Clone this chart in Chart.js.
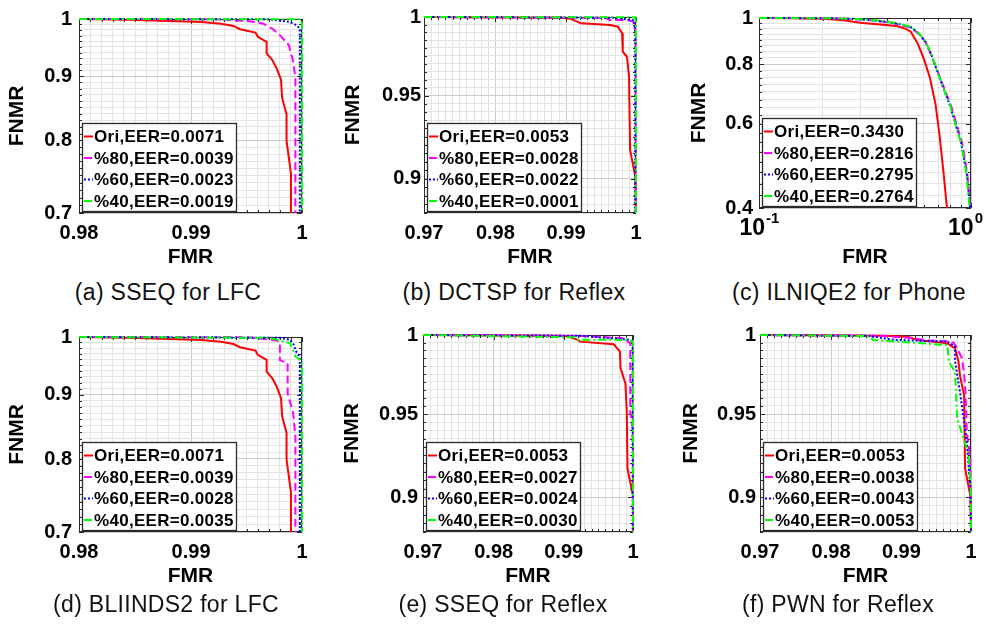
<!DOCTYPE html>
<html>
<head>
<meta charset="utf-8">
<script src="https://cdn.jsdelivr.net/npm/chart.js@4.4.0/dist/chart.umd.min.js"></script>
<style>
  body { margin: 0; background: #fff; width: 986px; height: 624px; position: relative; overflow: hidden; }
  canvas { position: absolute; }
  .cap { position: absolute; font-family: "Liberation Sans", Arial, sans-serif; font-size: 23px; letter-spacing: 0.3px;
         white-space: nowrap; transform: translate(-50%, -50%); color: #111; }
</style>
</head>
<body>
<script>
const FONT = '"Liberation Sans", Arial, Helvetica, sans-serif';

// curves as [FMR, FNMR] points
const lfcOri = [[0.98, 1], [0.9844, 0.9985], [0.9909, 0.9946], [0.9927, 0.9915], [0.9938, 0.9873], [0.9944, 0.9814], [0.9958, 0.9754], [0.9960, 0.9678], [0.9968, 0.959], [0.9968, 0.9388], [0.9973, 0.9276], [0.9977, 0.9135], [0.9981, 0.8944], [0.9982, 0.8649], [0.9986, 0.8393], [0.9986, 0.7996], [0.9990, 0.7526], [0.9990, 0.70]];
const sseqLfc80 = [[0.98, 1], [0.992, 0.9995], [0.9935, 0.998], [0.9953, 0.9958], [0.9965, 0.9915], [0.9973, 0.9825], [0.9980, 0.9708], [0.9988, 0.9532], [0.9992, 0.9247], [0.9994, 0.8971], [0.9994, 0.70]];
const sseqLfc60 = [[0.98, 1], [0.997, 0.9995], [0.9989, 0.9946], [0.9995, 0.9886], [0.9998, 0.9825], [0.9998, 0.70]];
const sseqLfc40 = [[0.98, 1], [0.9999, 0.9995], [1, 0.99], [1, 0.70]];

const dctspRefOri = [[0.97, 1], [0.9890, 0.9995], [0.9904, 0.9991], [0.9911, 0.998], [0.9921, 0.9959], [0.9963, 0.9948], [0.9974, 0.9937], [0.9980, 0.9894], [0.9981, 0.9776], [0.9987, 0.9744], [0.9990, 0.9618], [0.99915, 0.9169], [0.9999, 0.9011], [1, 0.88]];
const dctspRef80 = [[0.97, 1], [0.9955, 0.9995], [0.9963, 0.998], [0.9985, 0.998], [0.9996, 0.9972], [0.99995, 0.99], [0.99995, 0.88]];
const dctspRef60 = [[0.97, 1], [0.997, 0.9995], [0.9985, 0.9985], [0.9997, 0.9978], [0.9999, 0.99], [0.9999, 0.88]];
const dctspRef40 = [[0.97, 1], [0.9999, 0.9998], [1, 0.995], [1, 0.88]];

const phoneOri = [[0.1, 1], [0.15, 0.999], [0.2, 0.996], [0.25, 0.989], [0.3, 0.977], [0.35, 0.971], [0.4, 0.967], [0.45, 0.961], [0.49, 0.95], [0.52, 0.936], [0.56, 0.885], [0.6, 0.82], [0.64, 0.75], [0.68, 0.66], [0.71, 0.57], [0.74, 0.48], [0.77, 0.40]];
const phone80 = [[0.1, 1], [0.2, 0.999], [0.25, 0.997], [0.3, 0.993], [0.33, 0.99], [0.39, 0.982], [0.46, 0.970], [0.52, 0.955], [0.565, 0.928], [0.61, 0.89], [0.65, 0.835], [0.715, 0.75], [0.81, 0.65], [0.91, 0.545], [0.96, 0.472], [0.995, 0.40]];
const phone60 = [[0.1, 1], [0.2, 0.999], [0.25, 0.997], [0.3, 0.994], [0.33, 0.991], [0.39, 0.983], [0.46, 0.971], [0.52, 0.957], [0.565, 0.930], [0.61, 0.893], [0.65, 0.838], [0.71, 0.75], [0.8, 0.651], [0.9, 0.546], [0.955, 0.472], [0.99, 0.40]];
const phone40 = [[0.1, 1], [0.2, 0.999], [0.25, 0.997], [0.3, 0.994], [0.33, 0.991], [0.39, 0.984], [0.46, 0.972], [0.52, 0.958], [0.565, 0.931], [0.61, 0.894], [0.65, 0.84], [0.71, 0.752], [0.8, 0.652], [0.9, 0.545], [0.95, 0.474], [0.985, 0.40]];

const bliindsLfc80 = [[0.98, 1], [0.995, 0.9995], [0.9968, 0.996], [0.9978, 0.993], [0.9980, 0.990], [0.9980, 0.9585], [0.9987, 0.953], [0.9987, 0.902], [0.9992, 0.87], [0.9994, 0.834], [0.9994, 0.70]];
const bliindsLfc60 = [[0.98, 1], [0.998, 0.9985], [0.9989, 0.995], [0.9993, 0.985], [0.9994, 0.976], [0.9997, 0.967], [0.9998, 0.9585], [0.9998, 0.70]];
const bliindsLfc40 = [[0.98, 1], [0.997, 0.9985], [0.9989, 0.989], [0.9992, 0.975], [0.9994, 0.965], [0.9999, 0.958], [1, 0.95], [1, 0.70]];

const sseqRefOri = [[0.97, 1], [0.990, 0.9995], [0.991, 0.9985], [0.9920, 0.9968], [0.9924, 0.9957], [0.9972, 0.9940], [0.9981, 0.9892], [0.9982, 0.9786], [0.9989, 0.969], [0.9991, 0.951], [0.9992, 0.917], [1, 0.901], [1, 0.88]];
const sseqRef80 = [[0.97, 1], [0.992, 0.9995], [0.9986, 0.998], [0.9996, 0.9946], [0.9996, 0.951], [0.9999, 0.945], [1, 0.93], [1, 0.88]];
const sseqRef60 = [[0.97, 1], [0.9925, 0.9995], [0.9993, 0.997], [0.99995, 0.9955], [0.99995, 0.88]];
const sseqRef40 = [[0.97, 1], [0.9915, 0.9985], [0.992, 0.997], [0.9996, 0.9968], [1, 0.995], [1, 0.88]];

const pwnRefOri = [[0.97, 1], [0.988, 0.9995], [0.9909, 0.9989], [0.9923, 0.9968], [0.9966, 0.9946], [0.9977, 0.9914], [0.9982, 0.9828], [0.9984, 0.9743], [0.9990, 0.9617], [0.99915, 0.917], [0.9999, 0.901], [1, 0.88]];
const pwnRef80 = [[0.97, 1], [0.987, 0.9995], [0.9915, 0.998], [0.9935, 0.9965], [0.9965, 0.996], [0.9975, 0.995], [0.9980, 0.9914], [0.9987, 0.985], [0.9990, 0.975], [0.9992, 0.964], [0.9994, 0.939], [0.9999, 0.923], [1, 0.88]];
const pwnRef60 = [[0.97, 1], [0.985, 0.9995], [0.9861, 0.9989], [0.9890, 0.9968], [0.9966, 0.9957], [0.9977, 0.9925], [0.9977, 0.983], [0.9984, 0.964], [0.9994, 0.933], [0.99995, 0.903], [1, 0.88]];
const pwnRef40 = [[0.97, 1], [0.985, 0.9993], [0.9856, 0.9989], [0.9859, 0.9968], [0.9966, 0.9935], [0.9968, 0.9828], [0.9977, 0.9764], [0.9980, 0.9474], [0.9996, 0.926], [0.99995, 0.907], [1, 0.88]];

// legend entries
const legendSseqLfc = ['Ori,EER=0.0071', '%80,EER=0.0039', '%60,EER=0.0023', '%40,EER=0.0019'];
const legendDctspRef = ['Ori,EER=0.0053', '%80,EER=0.0028', '%60,EER=0.0022', '%40,EER=0.0001'];
const legendPhone = ['Ori,EER=0.3430', '%80,EER=0.2816', '%60,EER=0.2795', '%40,EER=0.2764'];
const legendBliindsLfc = ['Ori,EER=0.0071', '%80,EER=0.0039', '%60,EER=0.0028', '%40,EER=0.0035'];
const legendSseqRef = ['Ori,EER=0.0053', '%80,EER=0.0027', '%60,EER=0.0024', '%40,EER=0.0030'];
const legendPwnRef = ['Ori,EER=0.0053', '%80,EER=0.0038', '%60,EER=0.0043', '%40,EER=0.0053'];

const captionText = ['(a) SSEQ for LFC', '(b) DCTSP for Reflex', '(c) ILNIQE2 for Phone',
                     '(d) BLIINDS2 for LFC', '(e) SSEQ for Reflex', '(f) PWN for Reflex'];

// labelled ticks
const fmrTicksLfc = [0.98, 0.99, 1];
const fnmrTicksLfc = [0.7, 0.8, 0.9, 1];
const fmrTicksRef = [0.97, 0.98, 0.99, 1];
const fnmrTicksRef = [0.9, 0.95, 1];
const fmrTicksPhone = [0.1, 1];
const fnmrTicksPhone = [0.4, 0.6, 0.8, 1];

const seriesStyle = [
  { color: '#ff0000', dash: [] },
  { color: '#ff00ff', dash: [8, 4] },
  { color: '#0000ff', dash: [2, 2] },
  { color: '#00ff00', dash: [8, 3, 2, 3] }
];

const lfcX = { min: 0.98, max: 1, step: 0.001, majors: fmrTicksLfc };
const lfcY = { min: 0.7, max: 1, step: 0.01, majors: fnmrTicksLfc };
const refX = { min: 0.97, max: 1, step: 0.001, majors: fmrTicksRef };
const refY = { min: 0.88, max: 1, step: 0.005, majors: fnmrTicksRef };
const phoneX = { min: 0.1, max: 1, step: 0.1, majors: fmrTicksPhone, powers: true };
const phoneY = { min: 0.4, max: 1, step: 0.025, majors: fnmrTicksPhone };

const panels = [
  { box: [0, 0, 322, 275], plot: [79, 17, 302, 213], x: lfcX, y: lfcY, curves: [lfcOri, sseqLfc80, sseqLfc60, sseqLfc40],
    legend: legendSseqLfc, yTitlePad: 5, yTickPad: 7, cap: [168, 292] },
  { box: [330, 0, 656, 275], plot: [424, 17, 636, 213], x: refX, y: refY, curves: [dctspRefOri, dctspRef80, dctspRef60, dctspRef40],
    legend: legendDctspRef, yTitlePad: 11, yTickPad: 3, cap: [514, 292] },
  { box: [665, 0, 986, 275], plot: [759, 17, 971, 208], x: phoneX, y: phoneY, curves: [phoneOri, phone80, phone60, phone40],
    legend: legendPhone, yTitlePad: 22, yTickPad: 6, cap: [849, 292] },
  { box: [0, 318, 322, 594], plot: [79, 335, 302, 532], x: lfcX, y: lfcY, curves: [lfcOri, bliindsLfc80, bliindsLfc60, bliindsLfc40],
    legend: legendBliindsLfc, yTitlePad: 5, yTickPad: 7, cap: [166, 604] },
  { box: [330, 318, 656, 594], plot: [423, 335, 633, 532], x: refX, y: refY, curves: [sseqRefOri, sseqRef80, sseqRef60, sseqRef40],
    legend: legendSseqRef, yTitlePad: 10, yTickPad: 5, cap: [503, 604] },
  { box: [665, 318, 986, 594], plot: [760, 335, 971, 532], x: refX, y: refY, curves: [pwnRefOri, pwnRef80, pwnRef60, pwnRef40],
    legend: legendPwnRef, yTitlePad: 14, yTickPad: 4, cap: [838, 604] }
];

function gridValues(min, max, step) {
  const out = [];
  const n = Math.round((max - min) / step);
  for (let i = 0; i <= n; i++) out.push(+(min + i * step).toFixed(6));
  return out;
}

function isMajor(v, majors) {
  return majors.some(m => Math.abs(m - v) < 1e-7);
}

function axisOptions(ax, title, o) {
  const values = gridValues(ax.min, ax.max, ax.step);
  return {
    type: 'logarithmic',
    min: ax.min,
    max: ax.max,
    afterBuildTicks: s => { s.ticks = values.map(v => ({ value: v })); },
    afterFit: s => { if (o.horizontal) s.height = o.size; else s.width = o.size; },
    grid: {
      color: c => (c.tick && isMajor(c.tick.value, ax.majors)) ? '#cbcbcb' : '#e3e3e3',
      lineWidth: 1,
      drawTicks: false
    },
    border: { display: false },
    ticks: {
      autoSkip: false, maxRotation: 0, minRotation: 0,
      padding: o.tickPad, color: '#000',
      font: { family: FONT, size: 20, weight: 'bold' },
      callback: v => (!ax.powers && isMajor(v, ax.majors)) ? String(+v.toFixed(4)) : ''
    },
    title: {
      display: true, text: title, color: '#000',
      font: { family: FONT, size: 21, weight: 'bold' },
      padding: o.titlePad
    }
  };
}

// axes box, inward tick marks, legend and power-of-ten labels
function decorations(p) {
  return {
    id: 'detDecor',
    beforeDatasetsDraw(chart) {
      const { ctx, chartArea: a, scales } = chart;
      ctx.save();
      ctx.strokeStyle = '#2a2a2a';
      ctx.lineWidth = 1;
      ctx.beginPath();
      scales.x.ticks.forEach(t => {
        const px = Math.round(scales.x.getPixelForValue(t.value)) + 0.5;
        const len = isMajor(t.value, p.x.majors) ? 5 : 3;
        ctx.moveTo(px, a.bottom); ctx.lineTo(px, a.bottom - len);
        ctx.moveTo(px, a.top); ctx.lineTo(px, a.top + len);
      });
      scales.y.ticks.forEach(t => {
        const py = Math.round(scales.y.getPixelForValue(t.value)) + 0.5;
        const len = isMajor(t.value, p.y.majors) ? 5 : 3;
        ctx.moveTo(a.left, py); ctx.lineTo(a.left + len, py);
        ctx.moveTo(a.right, py); ctx.lineTo(a.right - len, py);
      });
      ctx.stroke();
      ctx.strokeRect(Math.round(a.left) + 0.5, Math.round(a.top) + 0.5,
                     Math.round(a.right - a.left) - 1, Math.round(a.bottom - a.top) - 1);
      ctx.restore();
    },
    afterDraw(chart) {
      const { ctx, chartArea: a, scales, width } = chart;
      ctx.save();

      // legend box in the lower left corner
      ctx.font = `bold 17px ${FONT}`;
      ctx.letterSpacing = '0.3px';
      const textW = Math.max(...chart.data.datasets.map(d => ctx.measureText(d.label).width));
      const w = Math.round(textW + 14), h = 88;
      const left = Math.round(a.left) + 3, top = Math.round(a.bottom) - 2 - h;
      ctx.fillStyle = '#fff';
      ctx.fillRect(left, top, w, h);
      ctx.strokeStyle = '#2a2a2a';
      ctx.lineWidth = 1.3;
      ctx.strokeRect(left + 0.5, top + 0.5, w, h);
      ctx.textBaseline = 'middle';
      chart.data.datasets.forEach((d, i) => {
        const cy = top + 13.5 + i * 21.5;
        ctx.strokeStyle = d.borderColor;
        ctx.lineWidth = 2;
        ctx.setLineDash(d.borderDash);
        ctx.beginPath();
        ctx.moveTo(left + 2, cy);
        ctx.lineTo(left + 11, cy);
        ctx.stroke();
        ctx.setLineDash([]);
        ctx.fillStyle = '#000';
        ctx.fillText(d.label, left + 12, cy + 1);
      });

      // 10^n labels on the log FMR axis
      if (p.x.powers) {
        ctx.letterSpacing = '0px';
        ctx.textBaseline = 'alphabetic';
        ctx.fillStyle = '#000';
        p.x.majors.forEach(v => {
          const px = scales.x.getPixelForValue(v);
          const exp = String(Math.round(Math.log10(v)));
          ctx.font = `bold 23px ${FONT}`;
          const w1 = ctx.measureText('10').width;
          ctx.font = `bold 15px ${FONT}`;
          const w2 = ctx.measureText(exp).width;
          const x0 = Math.min(px - (w1 + w2) / 2, width - 4 - w1 - w2);
          ctx.font = `bold 23px ${FONT}`;
          ctx.fillText('10', x0, a.bottom + 27);
          ctx.font = `bold 15px ${FONT}`;
          ctx.fillText(exp, x0 + w1 + 1, a.bottom + 15);
        });
      }
      ctx.restore();
    }
  };
}

panels.forEach((p, k) => {
  const [cl, ct, cr, cb] = p.box;
  const [pl, pt, pr, pb] = p.plot;
  const cv = document.createElement('canvas');
  cv.width = cr - cl;
  cv.height = cb - ct;
  cv.style.left = cl + 'px';
  cv.style.top = ct + 'px';
  document.body.appendChild(cv);

  const datasets = p.curves.map((pts, i) => ({
    label: p.legend[i],
    data: pts.map(([x, y]) => ({ x, y })),
    showLine: true,
    borderColor: seriesStyle[i].color,
    borderDash: seriesStyle[i].dash,
    borderWidth: 2,
    pointRadius: 0,
    fill: false,
    tension: 0,
    clip: 2,
    order: 4 - i
  }));

  new Chart(cv, {
    type: 'scatter',
    data: { datasets },
    options: {
      responsive: false,
      animation: false,
      events: [],
      layout: { padding: { left: 0, top: pt - ct, right: cr - pr, bottom: 0 } },
      plugins: { legend: { display: false }, tooltip: { enabled: false } },
      scales: {
        x: axisOptions(p.x, 'FMR', { horizontal: true, size: cb - pb, tickPad: 8, titlePad: { top: 0, bottom: 5 } }),
        y: axisOptions(p.y, 'FNMR', { horizontal: false, size: pl - cl, tickPad: p.yTickPad, titlePad: { top: p.yTitlePad, bottom: 0 } })
      }
    },
    plugins: [decorations(p)]
  });

  const cap = document.createElement('div');
  cap.className = 'cap';
  cap.textContent = captionText[k];
  cap.style.left = p.cap[0] + 'px';
  cap.style.top = p.cap[1] + 'px';
  document.body.appendChild(cap);
});
</script>
</body>
</html>
